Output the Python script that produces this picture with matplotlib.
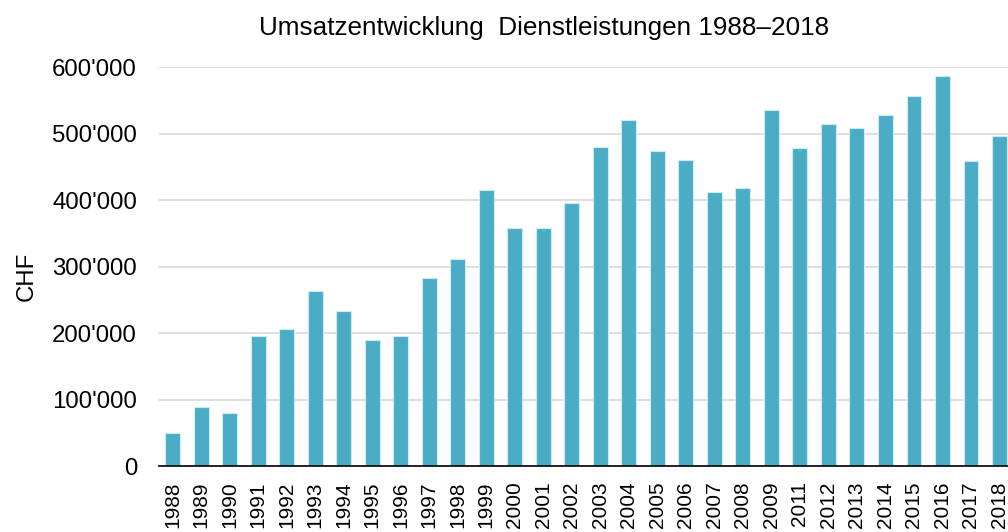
import matplotlib
matplotlib.use("Agg")
import matplotlib.pyplot as plt
from matplotlib.ticker import FuncFormatter

plt.rcParams['font.family'] = ['Liberation Sans', 'DejaVu Sans']

# Jahre (2010 fehlt in der Vorlage)
jahre = ['1988', '1989', '1990', '1991', '1992', '1993', '1994', '1995', '1996', '1997',
         '1998', '1999', '2000', '2001', '2002', '2003', '2004', '2005', '2006', '2007',
         '2008', '2009', '2011', '2012', '2013', '2014', '2015', '2016', '2017', '2018']
umsatz = [49000, 89000, 79500, 196000, 206000, 262500, 233500, 190000, 195000, 282500,
          311000, 415500, 358500, 358500, 395500, 480000, 520500, 473500, 460500, 412500,
          417500, 536000, 478500, 514000, 509000, 527500, 556000, 587000, 458500, 497000]
yticks = [0, 100000, 200000, 300000, 400000, 500000, 600000]

fig = plt.figure(figsize=(10.08, 5.32), dpi=100)
ax = fig.add_axes([0.158, 0.124, 0.842, 0.750])

x = range(len(jahre))
ax.bar(x, umsatz, width=0.52, color='#4BACC6', edgecolor='#cfeaf2', linewidth=0.8, zorder=3)

ax.set_xlim(-0.47, 29.3)
ax.set_ylim(0, 600000)
ax.set_yticks(yticks)
ax.yaxis.set_major_formatter(FuncFormatter(lambda v, p: f"{int(v):,}".replace(',', "'")))
ax.set_xticks(list(x))
ax.set_xticklabels(jahre, rotation=90, va='top', ha='center')
ax.tick_params(axis='x', length=0, pad=11, labelsize=15)
ax.tick_params(axis='y', length=0, pad=16, labelsize=17.3)

ax.grid(axis='y', color='#d9d9d9', linewidth=1.2, zorder=0)
for s in ['top', 'right', 'left']:
    ax.spines[s].set_visible(False)
ax.spines['bottom'].set_color('black')
ax.spines['bottom'].set_linewidth(1.2)
ax.spines['bottom'].set_zorder(4)

fig.text(0.54, 0.947, 'Umsatzentwicklung  Dienstleistungen 1988\u20132018',
         ha='center', va='center', fontsize=18.8)
fig.text(0.027, 0.481, 'CHF', rotation=90, ha='center', va='center', fontsize=17.3)

fig.savefig('out.png', dpi=100)
